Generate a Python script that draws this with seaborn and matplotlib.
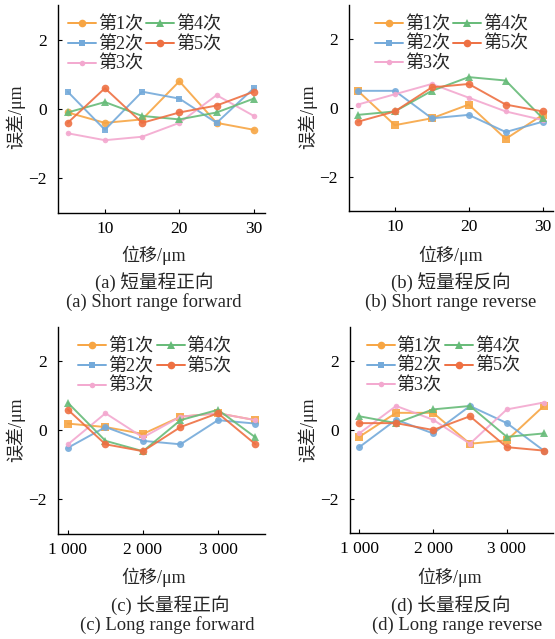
import matplotlib
matplotlib.use("Agg")
import matplotlib.pyplot as plt
from matplotlib.lines import Line2D
import seaborn as sns
import pandas as pd

sns.set_theme(style="ticks")
plt.rcParams['font.family'] = ['Liberation Serif', 'Noto Sans CJK SC', 'DejaVu Sans']
plt.rcParams['axes.unicode_minus'] = True

series_names = ["第1次", "第2次", "第3次", "第4次", "第5次"]
colors = ["#F7A543", "#74AADA", "#F3A8CF", "#66BB78", "#EE7042"]
legend_markers = ["o", "s", "o", "^", "o"]
legend_msize = [5.5, 5, 4, 5.5, 5.5]

x_short = [5, 10, 15, 20, 25, 30]
x_long = [1000, 1500, 2000, 2500, 3000, 3500]

# (a) short range forward
a_run1 = [-0.1, -0.4, -0.3, 0.8, -0.4, -0.6]
a_run2 = [0.5, -0.6, 0.5, 0.3, -0.4, 0.6]
a_run3 = [-0.7, -0.9, -0.8, -0.4, 0.4, -0.2]
a_run4 = [-0.1, 0.2, -0.2, -0.3, -0.1, 0.3]
a_run5 = [-0.4, 0.6, -0.4, -0.1, 0.1, 0.5]
# (b) short range reverse
b_run1 = [0.5, -0.5, -0.3, 0.1, -0.9, -0.2]
b_run2 = [0.5, 0.5, -0.3, -0.2, -0.7, -0.4]
b_run3 = [0.1, 0.4, 0.7, 0.3, -0.1, -0.35]
b_run4 = [-0.2, -0.1, 0.5, 0.9, 0.8, -0.3]
b_run5 = [-0.4, -0.1, 0.6, 0.7, 0.1, -0.1]
# (c) long range forward
c_run1 = [0.2, 0.1, -0.1, 0.4, 0.5, 0.3]
c_run2 = [-0.5, 0.1, -0.3, -0.4, 0.3, 0.2]
c_run3 = [-0.4, 0.5, -0.2, 0.4, 0.5, 0.3]
c_run4 = [0.8, -0.3, -0.6, 0.3, 0.6, -0.2]
c_run5 = [0.6, -0.4, -0.6, 0.1, 0.5, -0.4]
# (d) long range reverse
d_run1 = [-0.2, 0.5, 0.5, -0.4, -0.3, 0.7]
d_run2 = [-0.5, 0.3, -0.1, 0.7, 0.2, -0.6]
d_run3 = [-0.1, 0.7, 0.3, -0.4, 0.6, 0.8]
d_run4 = [0.4, 0.2, 0.6, 0.7, -0.2, -0.1]
d_run5 = [0.2, 0.2, 0.0, 0.4, -0.5, -0.6]

short_ticks = [10, 20, 30]
short_ticklabels = ["10", "20", "30"]
long_ticks = [1000, 2000, 3000]
long_ticklabels = ["1 000", "2 000", "3 000"]
y_ticks = [-2, 0, 2]
y_ticklabels = ["\u22122", "0", "2"]

xlabel = "位移/μm"
ylabel = "误差/μm"
titles_cn = ["(a) 短量程正向", "(b) 短量程反向", "(c) 长量程正向", "(d) 长量程反向"]
titles_en = ["(a) Short range forward", "(b) Short range reverse",
             "(c) Long range forward", "(d) Long range reverse"]

fig = plt.figure(figsize=(5.55, 6.39), dpi=100)
W, H = 555, 639

def ax_rect(l, r, t, b):
    return [l / W, 1 - b / H, (r - l) / W, (b - t) / H]

panels = [
    dict(rect=ax_rect(58, 265, 5, 213), x=x_short, ys=[a_run1, a_run2, a_run3, a_run4, a_run5],
         markers=["o", "s", "o", "^", "o"], xlim=(3.7, 31.5), ticks=short_ticks, tl=short_ticklabels,
         leg=0.048, xl=(154, 255), cn=(154, 282), en=(154, 302), yl=(15, 117)),
    dict(rect=ax_rect(349, 553, 5, 211), x=x_short, ys=[b_run1, b_run2, b_run3, b_run4, b_run5],
         markers=["s", "o", "o", "^", "o"], xlim=(3.8, 31.4), ticks=short_ticks, tl=short_ticklabels,
         leg=0.127, xl=(451, 255), cn=(451, 282), en=(451, 302), yl=(307, 117)),
    dict(rect=ax_rect(58, 265, 327, 534), x=x_long, ys=[c_run1, c_run2, c_run3, c_run4, c_run5],
         markers=["s", "o", "o", "^", "o"], xlim=(867, 3627), ticks=long_ticks, tl=long_ticklabels,
         leg=0.097, xl=(154, 577), cn=(170, 605), en=(167, 625), yl=(15, 430)),
    dict(rect=ax_rect(350, 553, 327, 533), x=x_long, ys=[d_run1, d_run2, d_run3, d_run4, d_run5],
         markers=["s", "o", "o", "^", "o"], xlim=(875, 3625), ticks=long_ticks, tl=long_ticklabels,
         leg=0.083, xl=(450, 577), cn=(451, 605), en=(457, 625), yl=(307, 430)),
]

for i, p in enumerate(panels):
    ax = fig.add_axes(p["rect"])
    for name, yv, c, m, ms in zip(series_names, p["ys"], colors, p["markers"], legend_msize):
        df = pd.DataFrame({"x": p["x"], "y": yv})
        sns.lineplot(data=df, x="x", y="y", ax=ax, color=c, marker=m, markersize=ms,
                     markeredgewidth=0, linewidth=1.4, legend=False, alpha=0.9)
    ax.set_xlim(*p["xlim"])
    ax.set_ylim(-3, 3)
    ax.set_xticks(p["ticks"])
    ax.set_xticklabels(p["tl"])
    ax.set_yticks(y_ticks)
    ax.set_yticklabels(y_ticklabels)
    ax.set_xlabel("")
    ax.set_ylabel("")
    for s in ["top", "right"]:
        ax.spines[s].set_visible(False)
    for s in ["left", "bottom"]:
        ax.spines[s].set_linewidth(1.0)
        ax.spines[s].set_color("black")
    ax.tick_params(axis="both", direction="in", length=3, width=0.8, labelsize=12.5, colors="black")
    ax.tick_params(axis="y", pad=8)
    ax.tick_params(axis="x", pad=6)
    handles = [Line2D([0], [0], color=c, marker=m, markersize=ms, markeredgewidth=0, linewidth=1.4)
               for c, m, ms in zip(colors, legend_markers, legend_msize)]
    ax.legend(handles, series_names, loc="upper left", bbox_to_anchor=(p["leg"], 0.947), ncol=2,
              frameon=False, fontsize=13, handlelength=1.55, handletextpad=0.1,
              columnspacing=0.2, labelspacing=0.15, borderpad=0, borderaxespad=0)
    fig.text(p["xl"][0] / W, 1 - p["xl"][1] / H, xlabel, ha="center", va="center", fontsize=13)
    fig.text(p["cn"][0] / W, 1 - p["cn"][1] / H, titles_cn[i], ha="center", va="center", fontsize=13.4)
    fig.text(p["en"][0] / W, 1 - p["en"][1] / H, titles_en[i], ha="center", va="center", fontsize=13.4)
    fig.text(p["yl"][0] / W, 1 - p["yl"][1] / H, ylabel, ha="center", va="center", fontsize=13,
             rotation=90)

fig.savefig("out.png", dpi=100)
